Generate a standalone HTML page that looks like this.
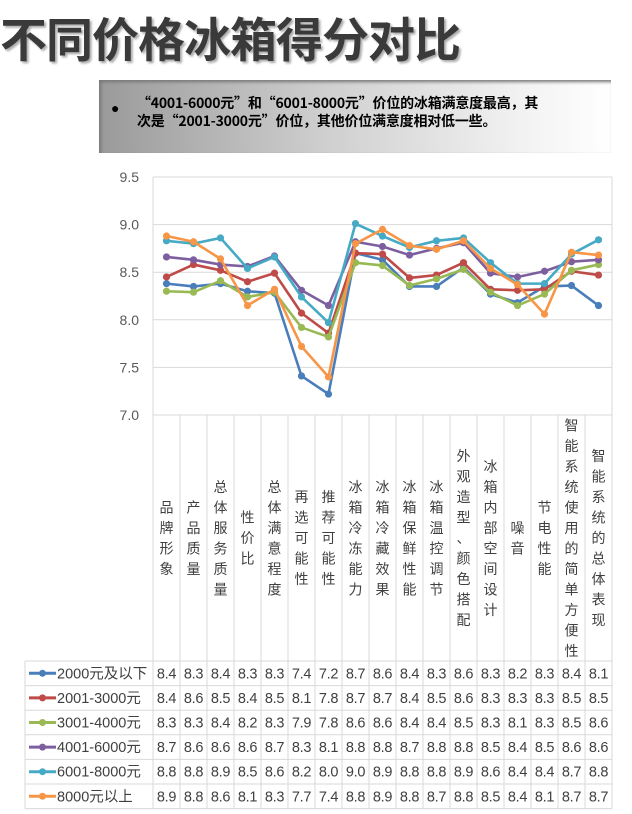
<!DOCTYPE html>
<html><head><meta charset="utf-8">
<style>
body{margin:0;width:632px;height:814px;background:#fff;overflow:hidden;font-family:"Liberation Sans","Noto Sans CJK SC",sans-serif;}
#title{position:absolute;left:0;top:2px;font-size:47px;font-weight:bold;color:#3a3a3a;letter-spacing:-1px;text-shadow:2px 2px 2px #aaa;font-family:"Noto Sans CJK SC",sans-serif;white-space:nowrap;}
#banner{position:absolute;left:99px;top:80px;width:512px;height:73px;background:linear-gradient(90deg,#9a9a9a 0%,#d0d0d0 45%,#f4f4f4 85%,#fff 100%);box-shadow:inset 2px 2px 3px #777;}
#banner p{margin:0;position:absolute;left:38px;top:14px;font-size:14px;font-weight:bold;line-height:18px;color:#000;font-family:"Noto Sans CJK SC",sans-serif;white-space:nowrap;letter-spacing:-0.2px;}
#bullet{position:absolute;left:12px;top:20px;font-size:14px;}
svg{position:absolute;left:0;top:0;}
</style></head><body>
<div id="title">不同价格冰箱得分对比</div>
<div id="banner"><span id="bullet">●</span><p>“4001-6000元”和“6001-8000元”价位的冰箱满意度最高，其<br>次是“2001-3000元”价位，其他价位满意度相对低一些。</p></div>
<svg id="chart" width="632" height="814"></svg>
<script>
const categories=["品牌形象","产品质量","总体服务质量","性价比","总体满意程度","再选可能性","推荐可能性","冰箱冷冻能力","冰箱冷藏效果","冰箱保鲜性能","冰箱温控调节","外观造型、颜色搭配","冰箱内部空间设计","噪音","节电性能","智能系统使用的简单方便性","智能系统的总体表现"];
const seriesNames=["2000元及以下","2001-3000元","3001-4000元","4001-6000元","6001-8000元","8000元以上"];
const s1=[8.38,8.35,8.38,8.30,8.28,7.41,7.22,8.70,8.63,8.35,8.35,8.55,8.27,8.18,8.35,8.36,8.15];
const s2=[8.45,8.58,8.52,8.40,8.49,8.07,7.86,8.70,8.69,8.44,8.47,8.60,8.32,8.31,8.32,8.51,8.47];
const s3=[8.30,8.29,8.41,8.24,8.29,7.92,7.82,8.60,8.57,8.36,8.43,8.53,8.29,8.15,8.27,8.52,8.58];
const s4=[8.66,8.63,8.58,8.56,8.67,8.31,8.15,8.82,8.77,8.68,8.75,8.81,8.49,8.45,8.51,8.61,8.63];
const s5=[8.83,8.80,8.86,8.54,8.66,8.24,7.97,9.01,8.88,8.76,8.83,8.86,8.60,8.38,8.38,8.69,8.84];
const s6=[8.88,8.82,8.64,8.15,8.32,7.72,7.40,8.80,8.95,8.78,8.74,8.83,8.54,8.37,8.06,8.71,8.68];
const t1=["8.4","8.3","8.4","8.3","8.3","7.4","7.2","8.7","8.6","8.4","8.3","8.6","8.3","8.2","8.3","8.4","8.1"];
const t2=["8.4","8.6","8.5","8.4","8.5","8.1","7.8","8.7","8.7","8.4","8.5","8.6","8.3","8.3","8.3","8.5","8.5"];
const t3=["8.3","8.3","8.4","8.2","8.3","7.9","7.8","8.6","8.6","8.4","8.4","8.5","8.3","8.1","8.3","8.5","8.6"];
const t4=["8.7","8.6","8.6","8.6","8.7","8.3","8.1","8.8","8.8","8.7","8.8","8.8","8.5","8.4","8.5","8.6","8.6"];
const t5=["8.8","8.8","8.9","8.5","8.6","8.2","8.0","9.0","8.9","8.8","8.8","8.9","8.6","8.4","8.4","8.7","8.8"];
const t6=["8.9","8.8","8.6","8.1","8.3","7.7","7.4","8.8","8.9","8.8","8.7","8.8","8.5","8.4","8.1","8.7","8.7"];
const yTicks=[7.0,7.5,8.0,8.5,9.0,9.5];
const colors=["#4a7ebb","#be4b48","#98b954","#7d5fa0","#46aac5","#f79646"];
const series=[s1,s2,s3,s4,s5,s6];
const tables=[t1,t2,t3,t4,t5,t6];

const NS="http://www.w3.org/2000/svg";
const svg=document.getElementById('chart');
const X0=153,X1=612,Y0=415,Y1=177,YMIN=7.0,YMAX=9.5;
const cw=(X1-X0)/categories.length;
const xPos=i=>X0+cw*(i+0.5);
const yPos=v=>Y0-(v-YMIN)/(YMAX-YMIN)*(Y0-Y1);
function mk(tag,attrs,parent){const e=document.createElementNS(NS,tag);for(const k in attrs)e.setAttribute(k,attrs[k]);(parent||svg).appendChild(e);return e;}
const TT=661,RH=24.6,TL=25;
const grid="#d9d9d9";
yTicks.forEach(v=>{
  const l=mk('line',{x1:X0,x2:X1,y1:yPos(v),y2:yPos(v),stroke:grid,'stroke-width':1});
  
  
  const t=mk('text',{x:X0-14,y:yPos(v)+5,'text-anchor':'end','font-size':14,fill:'#595959'});
  t.textContent=v.toFixed(1);
  
  
});
mk('line',{x1:X0,x2:X0,y1:Y1,y2:Y0,stroke:grid});
mk('line',{x1:X1,x2:X1,y1:Y1,y2:Y0,stroke:grid});
for(let i=0;i<=categories.length;i++){
  const x=X0+cw*i;
  mk('line',{x1:x,x2:x,y1:Y0,y2:TT+RH*6,stroke:grid});
}
for(let r=0;r<=6;r++){mk('line',{x1:TL,x2:X1,y1:TT+RH*r,y2:TT+RH*r,stroke:grid});}
mk('line',{x1:TL,x2:TL,y1:TT,y2:TT+RH*6,stroke:grid});
categories.forEach((c,i)=>{
  const n=c.length,step=20.5,cy=538;
  const g=mk('g',{});
  
  
  for(let k=0;k<n;k++){
    const t=mk('text',{x:xPos(i),y:cy-(n-1)*step/2+k*step+5,'text-anchor':'middle','font-size':14,fill:'#404040'},g);
    t.textContent=c[k];
  }
});
series.forEach((s,si)=>{
  const g=mk('g',{});
  
  
  const pts=s.map((v,i)=>xPos(i)+','+yPos(v)).join(' ');
  mk('polyline',{points:pts,fill:'none',stroke:colors[si],'stroke-width':2.6,'stroke-linejoin':'round'},g);
  s.forEach((v,i)=>{
    const c=mk('circle',{cx:xPos(i),cy:yPos(v),r:3.6,fill:colors[si]},g);
    
    
  });
});
tables.forEach((row,ri)=>{
  const y=TT+RH*ri+RH/2;
  const lg=mk('g',{});
  
  
  mk('line',{x1:29,x2:56,y1:y,y2:y,stroke:colors[ri],'stroke-width':3},lg);
  mk('circle',{cx:42.5,cy:y,r:3.5,fill:colors[ri]},lg);
  const lt=mk('text',{x:57,y:y+5,'font-size':14.5,fill:'#404040'},lg);
  lt.textContent=seriesNames[ri];
  row.forEach((v,ci)=>{
    const t=mk('text',{x:xPos(ci),y:y+5,'text-anchor':'middle','font-size':14.5,fill:'#404040','letter-spacing':'-0.3'});
    t.textContent=v;
    
    
  });
});
</script>
</body></html>
